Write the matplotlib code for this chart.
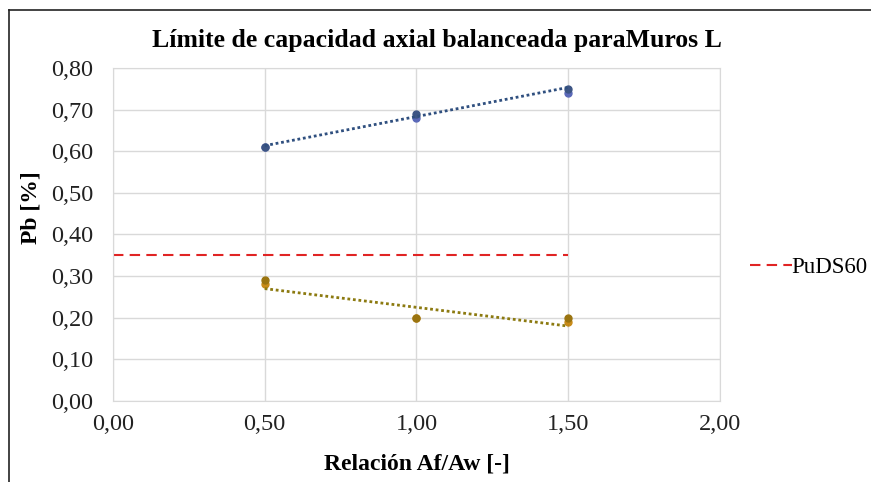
import matplotlib
matplotlib.use("Agg")
import matplotlib.pyplot as plt
import numpy as np
from matplotlib.ticker import FuncFormatter, MultipleLocator

plt.rcParams['font.family'] = ['Liberation Serif', 'DejaVu Serif']

x_vals = [0.5, 1.0, 1.5]
blue_a = [0.61, 0.69, 0.75]
blue_b = [0.61, 0.68, 0.74]
gold_a = [0.29, 0.20, 0.20]
gold_b = [0.28, 0.20, 0.19]
puds_x = [0.0, 1.5]
puds_y = [0.35, 0.35]

fig = plt.figure(figsize=(8.71, 4.82), dpi=100)
ax = fig.add_axes([0.1297, 0.168, 0.6969, 0.691])

# outer border (top and left visible)
fig.add_artist(plt.Line2D([9/871, 9/871], [0, 1 - 10/482], transform=fig.transFigure, color='#222222', lw=1.2))
fig.add_artist(plt.Line2D([9/871, 1], [1 - 10/482, 1 - 10/482], transform=fig.transFigure, color='#222222', lw=1.2))

ax.plot(x_vals, blue_b, 'o', color='#5a68b8', ms=5, zorder=3)
ax.plot(x_vals, blue_a, 'o', color='#3d5584', ms=5, zorder=4)
ax.plot(x_vals, gold_b, 'o', color='#c88a18', ms=5, zorder=3)
ax.plot(x_vals, gold_a, 'o', color='#9a7410', ms=5, zorder=4)

xs = np.array(x_vals)
bfit = np.polyfit(xs, blue_a, 1)
gfit = np.polyfit(xs, gold_a, 1)
ax.plot(xs, np.polyval(bfit, xs), linestyle=(0, (1, 1)), color='#2f4f7f', lw=2, zorder=5)
ax.plot(xs, np.polyval(gfit, xs) - 0.005, linestyle=(0, (1, 1)), color='#8c7a10', lw=2, zorder=5)

ax.plot(puds_x, puds_y, linestyle=(0, (5, 3)), color='#e02424', lw=1.5, label='PuDS60')

ax.set_xlim(0, 2)
ax.set_ylim(0, 0.8)
ax.xaxis.set_major_locator(MultipleLocator(0.5))
ax.yaxis.set_major_locator(MultipleLocator(0.1))
fmt = FuncFormatter(lambda v, p: f"{v:.2f}".replace('.', ','))
ax.xaxis.set_major_formatter(fmt)
ax.yaxis.set_major_formatter(fmt)
ax.grid(True, color='#d9d9d9', lw=1)
ax.set_axisbelow(True)
for s in ax.spines.values():
    s.set_color('#d9d9d9')
ax.tick_params(length=0, labelsize=17.5, colors='#222222')
ax.tick_params(axis='x', pad=9)
ax.tick_params(axis='y', pad=14)

ax.set_xlabel('Relación Af/Aw [-]', fontsize=17, fontweight='bold', labelpad=14)
ax.set_ylabel('Pb [%]', fontsize=17, fontweight='bold')
ax.yaxis.set_label_coords(-0.118, 0.58)
fig.text(437/871, 1 - 40/482, 'Límite de capacidad axial balanceada paraMuros L',
         fontsize=18.5, fontweight='bold', ha='center', va='center')

ax.legend(loc='center left', bbox_to_anchor=(1.035, 0.40), frameon=False, fontsize=16.5,
          handlelength=1.8, handletextpad=0.0, borderaxespad=0)

fig.savefig('out.png', dpi=100)
